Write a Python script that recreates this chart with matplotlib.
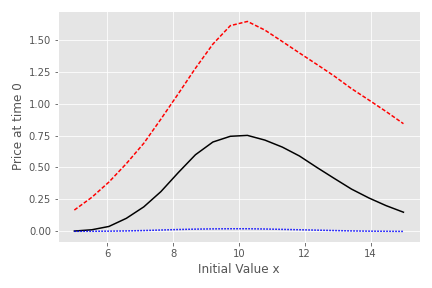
import matplotlib
matplotlib.use('Agg')
import matplotlib.pyplot as plt
import numpy as np

plt.style.use('ggplot')

# initial values x (20 grid points from 5 to 15)
x0 = [5.00, 5.53, 6.05, 6.58, 7.11, 7.63, 8.16, 8.68, 9.21, 9.74,
      10.26, 10.79, 11.32, 11.84, 12.37, 12.89, 13.42, 13.95, 14.47, 15.00]

# price at time 0 for each curve
price_solid = [0.0, 0.01, 0.036, 0.10, 0.19, 0.31, 0.46, 0.60, 0.70, 0.745,
               0.752, 0.715, 0.66, 0.59, 0.50, 0.415, 0.33, 0.26, 0.20, 0.148]
price_dashed = [0.165, 0.265, 0.385, 0.53, 0.69, 0.88, 1.08, 1.28, 1.47, 1.615,
                1.648, 1.58, 1.49, 1.40, 1.31, 1.22, 1.12, 1.03, 0.94, 0.844]
price_dotted = [-0.002, -0.002, -0.001, 0.001, 0.004, 0.008, 0.012, 0.015, 0.017, 0.018,
                0.018, 0.016, 0.013, 0.010, 0.007, 0.004, 0.001, -0.001, -0.002, -0.003]

fig = plt.figure(figsize=(6, 4), dpi=72)
ax = fig.add_subplot(111)
fig.subplots_adjust(left=0.134, right=0.972, top=0.962, bottom=0.16)

ax.plot(x0, price_solid, color='black', linestyle='-')
ax.plot(x0, price_dashed, color='red', linestyle='--', dashes=(2.6, 1.3))
ax.plot(x0, price_dotted, color='blue', linestyle=':', dashes=(1.0, 1.0))

ax.set_xlabel('Initial Value x')
ax.set_ylabel('Price at time 0')
ax.set_yticks([0.0, 0.25, 0.5, 0.75, 1.0, 1.25, 1.5])
ax.yaxis.set_major_formatter(matplotlib.ticker.FormatStrFormatter('%.2f'))

plt.savefig('out.png', dpi=72)
